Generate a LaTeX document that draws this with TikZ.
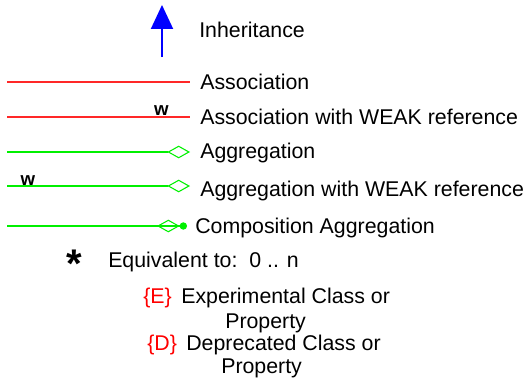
\documentclass[tikz,border=0pt]{standalone}
\usepackage{fontspec}
\setmainfont{Liberation Sans}
\usetikzlibrary{arrows.meta}
\definecolor{assocRed}{RGB}{255, 40, 40}
\definecolor{aggGreen}{RGB}{0, 240, 0}
\definecolor{inhBlue}{RGB}{0, 0, 255}

\begin{document}
\begin{tikzpicture}[x=0.75pt, y=-0.75pt,
    lbl/.style={anchor=base west, inner sep=0pt, font=\fontsize{16}{19}\selectfont},
    weakmark/.style={anchor=base, inner sep=0pt, font=\fontsize{14}{16}\selectfont\bfseries},
    assocline/.style={assocRed, line width=0.8pt},
    aggline/.style={aggGreen, line width=0.8pt,
      -{Diamond[open, length=17pt, width=9.5pt]}},
    compline/.style={aggGreen, line width=0.8pt,
      -{Diamond[open, length=17pt, width=9.5pt] Circle[length=5.5pt]}}]
  \useasboundingbox (0,0) rectangle (530,378);

  % Inheritance arrow
  \coordinate (inhB) at (162,57);
  \coordinate (inhT) at (162,5);
  \draw[inhBlue, line width=1.5pt, -{Triangle[length=18pt, width=16.5pt]}] (inhB) -- (inhT);
  \node[lbl] (inhTxt) at (199,37) {Inheritance};

  % Association
  \coordinate (asL) at (7,82);
  \coordinate (asR) at (190,82);
  \draw[assocline] (asL) -- (asR);
  \node[lbl] (asTxt) at (200,89) {Association};

  % Association, weak
  \coordinate (awL) at (7,117);
  \coordinate (awR) at (190,117);
  \draw[assocline] (awL) -- (awR);
  \node[weakmark] (awW) at (161.5,115) {w};
  \node[lbl] (awTxt) at (200,124) {Association with WEAK reference};

  % Aggregation
  \coordinate (agL) at (7,152);
  \coordinate (agR) at (190,152);
  \draw[aggline] (agL) -- (agR);
  \node[lbl] (agTxt) at (200,158) {Aggregation};

  % Aggregation, weak
  \coordinate (gwL) at (7,186);
  \coordinate (gwR) at (190,186);
  \draw[aggline] (gwL) -- (gwR);
  \node[weakmark] (gwW) at (28,185) {w};
  \node[lbl] (gwTxt) at (200,196) {Aggregation with WEAK reference};

  % Composition
  \coordinate (cpL) at (7,226);
  \coordinate (cpR) at (187,226);
  \draw[compline] (cpL) -- (cpR);
  \node[lbl] (cpTxt) at (195,233) {Composition Aggregation};

  % Multiplicity
  \node[anchor=base, inner sep=0pt, font=\fontsize{30}{30}\selectfont\bfseries] (star) at (74,277) {*};
  \node[lbl] (eqTxt) at (108,267) {Equivalent to:\ \ 0 .. n};

  % Experimental / deprecated flags
  \node[lbl, text=red] (expTag) at (143,303) {\{E\}};
  \node[lbl] (expTxt) at (181,303) {Experimental Class or};
  \node[lbl] (expTxtB) at (225,328) {Property};
  \node[lbl, text=red] (depTag) at (147,350) {\{D\}};
  \node[lbl] (depTxt) at (186,350) {Deprecated Class or};
  \node[lbl] (depTxtB) at (221,373) {Property};
\end{tikzpicture}
\end{document}
